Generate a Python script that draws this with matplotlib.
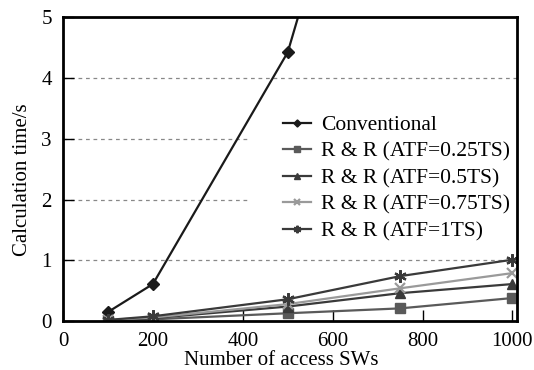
import numpy as np
import matplotlib.pyplot as plt

plt.rcParams['font.family'] = ['Liberation Serif', 'DejaVu Serif']

x_conv = [100, 200, 500, 750]
conv = [0.15, 0.61, 4.42, 10.7]

x_rr = [100, 200, 500, 750, 1000]
rr_025 = [0.01, 0.03, 0.13, 0.21, 0.38]
rr_05 = [0.01, 0.05, 0.24, 0.46, 0.61]
rr_075 = [0.02, 0.06, 0.28, 0.54, 0.79]
rr_1 = [0.02, 0.08, 0.36, 0.74, 1.01]

labels = ["Conventional", "R & R (ATF=0.25TS)", "R & R (ATF=0.5TS)",
          "R & R (ATF=0.75TS)", "R & R (ATF=1TS)"]

fig = plt.figure(figsize=(5.34, 3.70), dpi=100)
ax = fig.add_axes([0.118, 0.132, 0.850, 0.822])

# dashed gridlines (two middle ones stop before the legend)
ax.hlines([1, 4], 0, 1010, colors="#888888", linestyles=(0, (3, 3)), lw=0.9, zorder=0)
ax.hlines([2, 3], 0, 415, colors="#888888", linestyles=(0, (3, 3)), lw=0.9, zorder=0)

ax.plot(x_conv, conv, color="#1a1a1a", lw=1.6, marker="D", ms=6, label=labels[0])
ax.plot(x_rr, rr_025, color="#5a5a5a", lw=1.6, marker="s", ms=7, label=labels[1])
ax.plot(x_rr, rr_05, color="#3a3a3a", lw=1.6, marker="^", ms=7, label=labels[2])
ax.plot(x_rr, rr_075, color="#9a9a9a", lw=1.6, marker="x", ms=7, mew=1.6, label=labels[3])
ax.plot(x_rr, rr_1, color="#3a3a3a", lw=1.6, marker=(6, 2, 0), ms=9, mew=1.6, label=labels[4])

ax.set_xlim(0, 1010)
ax.set_ylim(0, 5)
ax.set_xticks([0, 200, 400, 600, 800, 1000])
ax.set_yticks([0, 1, 2, 3, 4, 5])
ax.tick_params(direction="in", length=8, width=1, labelsize=15, pad=8)
for s in ax.spines.values():
    s.set_linewidth(2)

ax.set_xlabel("Number of access SWs", fontsize=15)
ax.xaxis.set_label_coords(0.48, -0.097)
ax.xaxis.label.set_va("top")
ax.set_ylabel("Calculation time/s", fontsize=15)
ax.yaxis.set_label_coords(-0.068, 0.464)

leg = ax.legend(loc="upper left", bbox_to_anchor=(0.465, 0.706), frameon=False,
                fontsize=15.5, handlelength=1.3, handletextpad=0.5,
                labelspacing=0.3, borderaxespad=0, markerscale=0.6)

plt.savefig("out.png", dpi=100)
